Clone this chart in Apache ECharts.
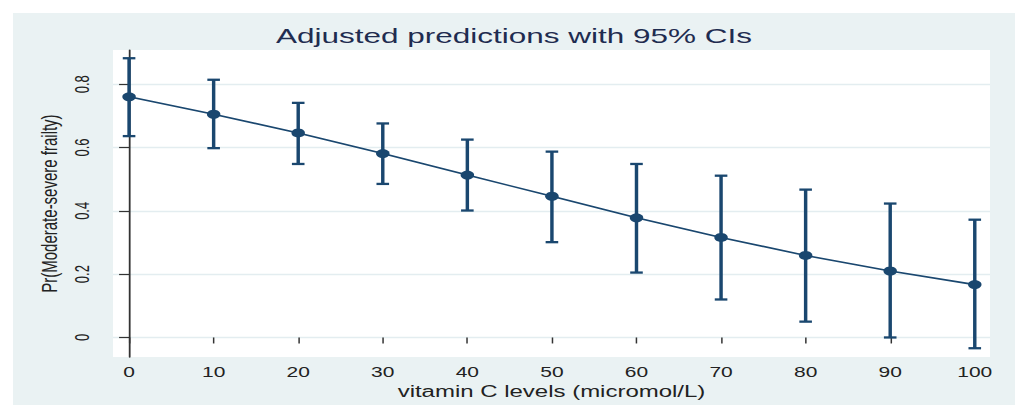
<!DOCTYPE html>
<html><head><meta charset="utf-8">
<script src="https://cdn.jsdelivr.net/npm/echarts@6/dist/echarts.min.js"></script>
<style>
html,body{margin:0;padding:0;background:#fff;overflow:hidden;}
#wrap{width:1015px;height:405px;overflow:hidden;position:relative;}
#chart{width:677px;height:405px;transform-origin:0 0;transform:scaleX(1.499261);}
</style></head><body>
<div id="wrap"><div id="chart"></div></div>
<script>
// ---- data ----
const vitaminC = [0, 10, 20, 30, 40, 50, 60, 70, 80, 90, 100];
const predicted = [0.760, 0.705, 0.646, 0.581, 0.513, 0.446, 0.378, 0.316, 0.259, 0.210, 0.167];
const upperCI = [0.882, 0.814, 0.741, 0.676, 0.625, 0.587, 0.548, 0.511, 0.467, 0.423, 0.372];
const lowerCI = [0.636, 0.598, 0.548, 0.485, 0.401, 0.301, 0.205, 0.120, 0.050, 0.000, -0.034];
const xTicks = [0, 10, 20, 30, 40, 50, 60, 70, 80, 90, 100];
const yTicks = [0, 0.2, 0.4, 0.6, 0.8];
const titleText = 'Adjusted predictions with 95% CIs';
const xName = 'vitamin C levels (micromol/L)';
const yName = 'Pr(Moderate-severe frailty)';

// ---- rendering ----
const S = 1015 / 677; // horizontal stretch of the reference
const navy = '#1a476f';
const font = 'Liberation Sans, Arial, sans-serif';
const chart = echarts.init(document.getElementById('chart'), null, { renderer: 'svg' });

const ciData = vitaminC.map((x, i) => [x, lowerCI[i], upperCI[i]]);
const lineData = vitaminC.map((x, i) => [x, predicted[i]]);

chart.setOption({
  animation: false,
  backgroundColor: '#ffffff',
  graphic: [
    { type: 'rect', z: -100, silent: true,
      shape: { x: 13 / S, y: 13, width: 677, height: 400 },
      style: { fill: '#eaf2f3' } },
    { type: 'text', z: 10, silent: true,
      style: { text: titleText, x: 514 / S, y: 25, align: 'center', verticalAlign: 'top',
               fontSize: 21, fontFamily: font, fill: '#1f2c50' } }
  ],
  grid: {
    left: 113 / S, right: 677 - 990 / S, top: 50, bottom: 46,
    show: true, backgroundColor: '#ffffff', borderWidth: 0, containLabel: false
  },
  xAxis: {
    type: 'value', min: -1.9, max: 101.8,
    name: xName, nameLocation: 'middle', nameGap: 24,
    nameTextStyle: { fontSize: 16, fontFamily: font, color: '#222' },
    axisLine: { show: false },
    axisTick: { show: true, length: 6, customValues: xTicks, lineStyle: { color: '#333', width: 1 } },
    axisLabel: { customValues: xTicks, margin: 8, fontSize: 14, fontFamily: font, color: '#222' },
    splitLine: { show: false }
  },
  yAxis: {
    type: 'value', min: -0.062, max: 0.908,
    name: yName, nameLocation: 'middle', nameGap: 32, nameRotate: 90,
    nameTextStyle: { fontSize: 15, fontFamily: font, color: '#222' },
    axisLine: { show: true, lineStyle: { color: '#333', width: 1.2 } },
    axisTick: { show: true, length: 10 / S, customValues: yTicks, lineStyle: { color: '#333', width: 1.2 } },
    axisLabel: { customValues: yTicks, rotate: 90, margin: 14, fontSize: 13, fontFamily: font, color: '#222',
                 formatter: v => String(v) },
    splitLine: { show: true, lineStyle: { color: '#e3edf0', width: 1.3 } }
  },
  series: [
    {
      type: 'custom',
      data: ciData,
      encode: { x: 0, y: [1, 2] },
      renderItem: function (params, api) {
        const x = api.value(0);
        const lo = api.coord([x, api.value(1)]);
        const hi = api.coord([x, api.value(2)]);
        const hw = 4.2;
        const st = { stroke: navy, lineWidth: 2.3, fill: null };
        return {
          type: 'group',
          children: [
            { type: 'line', shape: { x1: lo[0], y1: lo[1], x2: hi[0], y2: hi[1] }, style: st },
            { type: 'line', shape: { x1: lo[0] - hw, y1: lo[1], x2: lo[0] + hw, y2: lo[1] }, style: st },
            { type: 'line', shape: { x1: hi[0] - hw, y1: hi[1], x2: hi[0] + hw, y2: hi[1] }, style: st }
          ]
        };
      },
      z: 3
    },
    {
      type: 'line',
      data: lineData,
      symbol: 'circle', symbolSize: 9,
      lineStyle: { color: navy, width: 1.6 },
      itemStyle: { color: navy },
      z: 4
    }
  ]
});
</script>
</body></html>
